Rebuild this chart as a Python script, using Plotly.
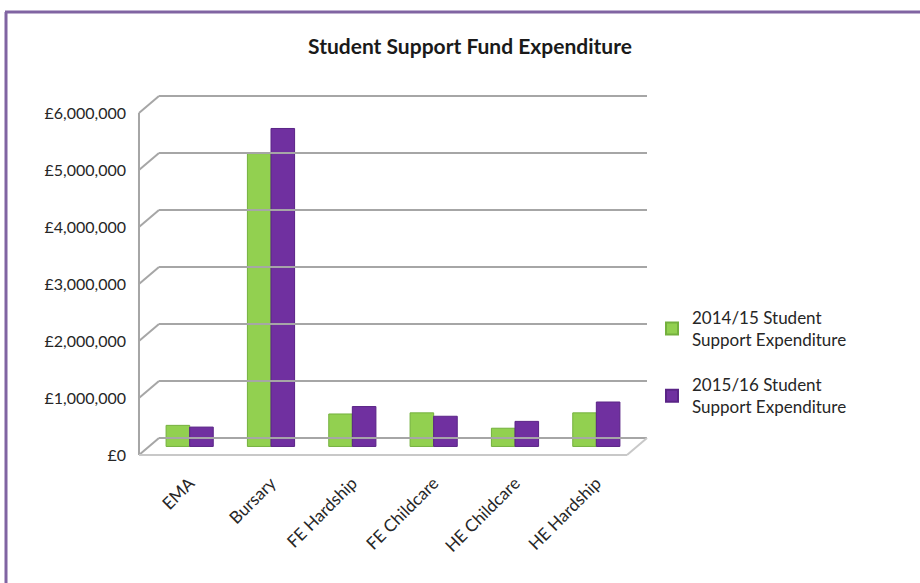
import plotly.graph_objects as go

categories = ["EMA", "Bursary", "FE Hardship", "FE Childcare", "HE Childcare", "HE Hardship"]
exp_2014 = [370000, 5140000, 570000, 590000, 320000, 590000]
exp_2015 = [340000, 5580000, 700000, 530000, 440000, 780000]
series_names = ["2014/15 Student<br>Support Expenditure", "2015/16 Student<br>Support Expenditure"]
tick_values = [0, 1000000, 2000000, 3000000, 4000000, 5000000, 6000000]
tick_labels = ["£0", "£1,000,000", "£2,000,000", "£3,000,000", "£4,000,000", "£5,000,000", "£6,000,000"]

GREEN = "#92D050"
PURPLE = "#7030A0"
GRID = "#A6A6A6"
FONT = "Lato"

# layout geometry (pixels)
W, H = 920, 583
L, R, T, B = 149, 283, 96, 128
depth = 150000          # half depth of the 3D floor in data units
dx = 0.0205             # half depth offset in paper x
ymin, ymax = -depth, 6000000 + depth

def py(v):
    return (v - ymin) / (ymax - ymin)

fig = go.Figure()
fig.add_trace(go.Bar(x=categories, y=exp_2014, name=series_names[0], legendgroup="a",
                     marker=dict(color=GREEN, line=dict(color="#74B03E", width=1))))
fig.add_trace(go.Bar(x=categories, y=exp_2015, name=series_names[1], legendgroup="b",
                     marker=dict(color=PURPLE, line=dict(color="#5A2486", width=1))))

shapes = []
shapes.append(dict(type="line", xref="paper", yref="paper", x0=-dx, x1=-dx,
                   y0=py(tick_values[0] - depth), y1=py(tick_values[-1] - depth),
                   line=dict(color=GRID, width=2)))
for v in tick_values:
    shapes.append(dict(type="line", xref="paper", yref="paper", x0=-dx, x1=dx,
                       y0=py(v - depth), y1=py(v + depth), line=dict(color=GRID, width=2)))
    shapes.append(dict(type="line", xref="paper", yref="paper", x0=dx, x1=1 + dx,
                       y0=py(v + depth), y1=py(v + depth), line=dict(color=GRID, width=2)))
shapes.append(dict(type="line", xref="paper", yref="paper", x0=-dx, x1=1 - dx,
                   y0=py(-depth), y1=py(-depth), line=dict(color="#C8C8C8", width=2)))
shapes.append(dict(type="line", xref="paper", yref="paper", x0=1 - dx, x1=1 + dx,
                   y0=py(-depth), y1=py(depth), line=dict(color="#C8C8C8", width=2)))

pw, ph = W - L - R, H - T - B
def px_x(p):
    return (p - L) / pw
def px_y(p):
    return (H - B - p) / ph
FRAME = "#8064A2"
shapes.append(dict(type="line", xref="paper", yref="paper", x0=px_x(5), x1=px_x(925),
                   y0=px_y(12), y1=px_y(12), line=dict(color=FRAME, width=3)))
shapes.append(dict(type="line", xref="paper", yref="paper", x0=px_x(6), x1=px_x(6),
                   y0=px_y(12), y1=px_y(590), line=dict(color=FRAME, width=3)))

fig.update_layout(
    width=W, height=H,
    margin=dict(l=L, r=R, t=T, b=B),
    paper_bgcolor="white", plot_bgcolor="white",
    barmode="group", bargap=0.42, bargroupgap=0.0,
    title=dict(text="<b>Student Support Fund Expenditure</b>", x=470 / W, xref="container",
               y=1 - 47 / H, yref="container", xanchor="center", yanchor="middle",
               font=dict(family=FONT, size=21, color="#1a1a1a")),
    font=dict(family=FONT, size=15, color="#262626"),
    xaxis=dict(showgrid=False, showline=False, zeroline=False, tickangle=-45,
               tickfont=dict(family=FONT, size=17, color="#262626"), ticks="",
               ticklabelstandoff=14),
    yaxis=dict(range=[ymin, ymax], showgrid=False, zeroline=False, showline=False,
               tickvals=[v - depth for v in tick_values], ticktext=tick_labels,
               tickfont=dict(family=FONT, size=16, color="#262626"),
               ticklabelstandoff=22),
    legend=dict(x=px_x(652), y=px_y(300), xanchor="left", yanchor="top",
                font=dict(family=FONT, size=17, color="#262626"),
                tracegroupgap=20, itemsizing="constant", bgcolor="rgba(0,0,0,0)"),
    shapes=shapes,
    showlegend=True,
)

fig.write_html("out.html")
